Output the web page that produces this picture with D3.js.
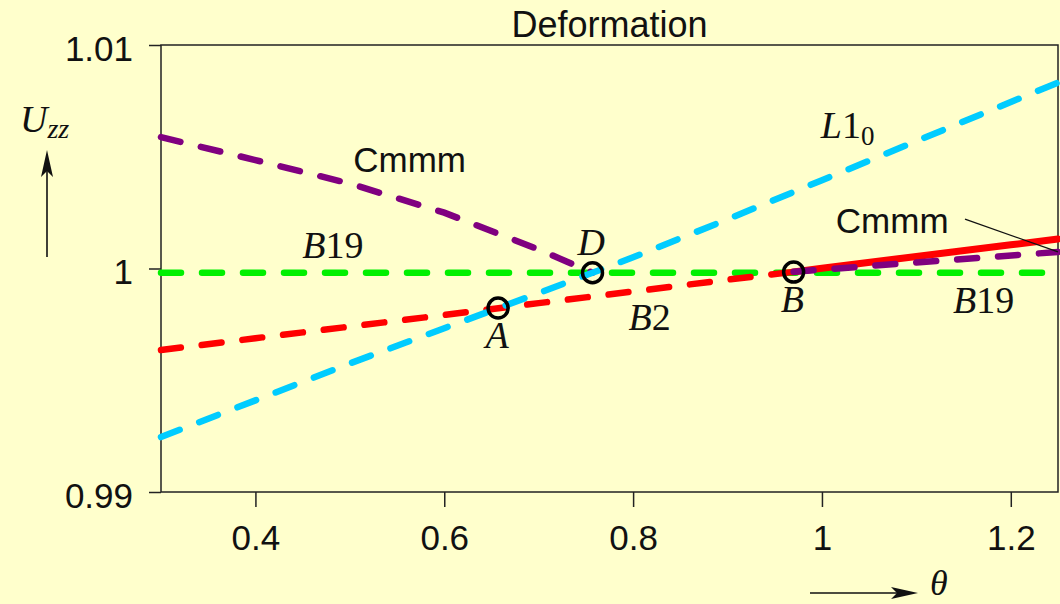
<!DOCTYPE html>
<html>
<head>
<meta charset="utf-8">
<script src="https://cdn.jsdelivr.net/npm/d3@7"></script>
<style>
  body { margin: 0; background: #ffffcc; }
  svg { display: block; }
</style>
</head>
<body>
<svg width="1060" height="604"></svg>
<script>
// tick labels
const xTicks = [0.4, 0.6, 0.8, 1, 1.2];
const yTicks = [0.99, 1, 1.01];

// L1_0 phase
const l10Theta = [0.3, 0.4, 0.5, 0.6, 0.7, 0.8, 0.9, 1.0, 1.1, 1.2, 1.25];
const l10U = [0.99246, 0.99410, 0.99575, 0.99733, 0.99890, 1.00050, 1.00220, 1.00395, 1.00570, 1.00745, 1.00832];

// B2 phase, metastable (dashed) and stable (solid)
const b2DashTheta = [0.3, 0.4, 0.5, 0.6, 0.7, 0.8, 0.9, 0.97];
const b2DashU = [0.99635, 0.99688, 0.99740, 0.99792, 0.99845, 0.99897, 0.99950, 0.99985];
const b2SolidTheta = [0.97, 1.0, 1.1, 1.2, 1.25];
const b2SolidU = [0.99985, 1.00001, 1.00054, 1.00106, 1.00132];

// Cmmm branches
const cmmmLeftTheta = [0.3, 0.4, 0.5, 0.6, 0.7, 0.757];
const cmmmLeftU = [1.00588, 1.00485, 1.00380, 1.00250, 1.00085, 0.99981];
const cmmmRightTheta = [0.97, 1.1, 1.25];
const cmmmRightU = [0.99985, 1.00027, 1.00074];

// B19 phase
const b19Theta = [0.3, 1.25];
const b19U = [0.99981, 0.99981];

// special points A, D, B
const pointNames = ["A", "D", "B"];
const pointTheta = [0.657, 0.757, 0.970];
const pointU = [0.99823, 0.99981, 0.99984];

const svg = d3.select("svg");
const x = d3.scaleLinear().domain([0.3, 1.25]).range([161, 1058]);
const y = d3.scaleLinear().domain([0.99, 1.01]).range([492, 45]);

const sans = "'Liberation Sans', Arial, sans-serif";
const serif = "'Liberation Serif', 'Times New Roman', serif";

svg.append("rect").attr("width", 1060).attr("height", 604).attr("fill", "#ffffcc");

// axes
const yAxis = svg.append("g")
    .attr("transform", `translate(${x.range()[0]},0)`)
    .call(d3.axisLeft(y).tickValues(yTicks).tickSize(12).tickSizeOuter(0).tickPadding(16).tickFormat(d => String(d)));
const xAxis = svg.append("g")
    .attr("transform", `translate(0,${y.range()[0]})`)
    .call(d3.axisBottom(x).tickValues(xTicks).tickSize(15).tickSizeOuter(0).tickPadding(18).tickFormat(d => String(d)));

[xAxis, yAxis].forEach(g => {
    g.selectAll("path.domain").remove();
    g.selectAll("line").attr("stroke", "#222").attr("stroke-width", 1.5);
    g.selectAll("text").attr("font-family", sans).attr("font-size", 35).attr("fill", "#111");
});
yAxis.selectAll("text").attr("dy", "0.43em");

// frame
svg.append("rect")
    .attr("x", x.range()[0]).attr("y", y.range()[1])
    .attr("width", x.range()[1] - x.range()[0])
    .attr("height", y.range()[0] - y.range()[1])
    .attr("fill", "none").attr("stroke", "#222").attr("stroke-width", 1.5);

// title
svg.append("text")
    .attr("x", (x.range()[0] + x.range()[1]) / 2).attr("y", 37)
    .attr("text-anchor", "middle")
    .attr("font-family", sans).attr("font-size", 36).attr("fill", "#111")
    .text("Deformation");

const line = d3.line().x(d => x(d[0])).y(d => y(d[1]));
const zip = (a, b) => a.map((v, i) => [v, b[i]]);

function curve(th, u, color, dashed, width) {
    svg.append("path")
        .attr("d", line(zip(th, u)))
        .attr("fill", "none")
        .attr("stroke", color)
        .attr("stroke-width", width)
        .attr("stroke-linecap", "round")
        .attr("stroke-dasharray", dashed ? "20,21" : null);
}

curve(b19Theta, b19U, "#00f000", true, 6.5);
curve(b2DashTheta, b2DashU, "#ff0000", true, 6.5);
curve(b2SolidTheta, b2SolidU, "#ff0000", false, 7);
curve(cmmmLeftTheta, cmmmLeftU, "#800080", true, 6.5);
curve(cmmmRightTheta, cmmmRightU, "#800080", true, 6.5);
curve(l10Theta, l10U, "#00ccff", true, 6.5);

// circles at special points
svg.selectAll("circle.pt")
    .data(pointNames)
    .join("circle")
    .attr("class", "pt")
    .attr("cx", (d, i) => x(pointTheta[i]))
    .attr("cy", (d, i) => y(pointU[i]))
    .attr("r", 10)
    .attr("fill", "none")
    .attr("stroke", "#000")
    .attr("stroke-width", 3.5);

// point labels (calligraphic letters approximated by italic serif)
const pointLabelAt = { A: [0.6436, 0.99644], D: [0.7411, 1.00060], B: [0.9564, 0.99805] };
pointNames.forEach(n => {
    svg.append("text")
        .attr("x", x(pointLabelAt[n][0])).attr("y", y(pointLabelAt[n][1]))
        .attr("font-family", serif).attr("font-style", "italic")
        .attr("font-size", 38).attr("fill", "#111")
        .text(n);
});

// curve labels
function sansLabel(th, u, txt) {
    svg.append("text")
        .attr("x", x(th)).attr("y", y(u))
        .attr("font-family", sans).attr("font-size", 35).attr("fill", "#111")
        .text(txt);
}
function mathLabel(th, u, it, rest, sub) {
    const t = svg.append("text")
        .attr("x", x(th)).attr("y", y(u))
        .attr("font-family", serif).attr("font-size", 38).attr("fill", "#111");
    t.append("tspan").attr("font-style", "italic").text(it);
    if (rest) t.append("tspan").text(rest);
    if (sub) t.append("tspan").attr("font-size", 27).attr("dy", 7).text(sub);
}

sansLabel(0.5036, 1.00432, "Cmmm");
sansLabel(1.0147, 1.00159, "Cmmm");
mathLabel(0.4495, 1.00047, "B", "19");
mathLabel(1.1388, 0.99800, "B", "19");
mathLabel(0.7952, 0.99725, "B", "2");
mathLabel(0.9988, 1.00584, "L", "1", "0");

// leader line from right Cmmm label to the purple curve end
svg.append("line")
    .attr("x1", x(1.1515)).attr("y1", y(1.00221))
    .attr("x2", x(cmmmRightTheta[cmmmRightTheta.length - 1]))
    .attr("y2", y(cmmmRightU[cmmmRightU.length - 1]))
    .attr("stroke", "#111").attr("stroke-width", 1.3);

// axis names with arrows
const uLabel = svg.append("text")
    .attr("x", 20).attr("y", 132)
    .attr("font-family", serif).attr("font-size", 38).attr("fill", "#111");
uLabel.append("tspan").attr("font-style", "italic").text("U");
uLabel.append("tspan").attr("font-style", "italic").attr("font-size", 28).attr("dy", 6).text("zz");

svg.append("line").attr("x1", 47).attr("y1", 257).attr("x2", 47).attr("y2", 168)
    .attr("stroke", "#111").attr("stroke-width", 1.6);
svg.append("path").attr("d", "M47,150 L53,177 L47,171 L41,177 Z").attr("fill", "#111");

svg.append("line").attr("x1", 810).attr("y1", 593).attr("x2", 900).attr("y2", 593)
    .attr("stroke", "#111").attr("stroke-width", 1.6);
svg.append("path").attr("d", "M918,593 L891,587 L897,593 L891,599 Z").attr("fill", "#111");

svg.append("text")
    .attr("x", 930).attr("y", 595)
    .attr("font-family", serif).attr("font-style", "italic")
    .attr("font-size", 36).attr("fill", "#111")
    .text("θ");
</script>
</body>
</html>
